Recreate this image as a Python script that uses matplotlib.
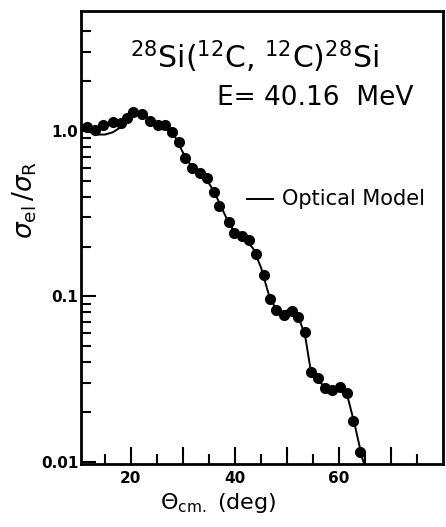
import matplotlib
matplotlib.use("Agg")
import matplotlib.pyplot as plt
from matplotlib.ticker import FixedLocator, NullFormatter, FixedFormatter

# measured elastic scattering, sigma_el / sigma_R
theta_data = [11.5, 13.1, 14.6, 16.5, 18.1, 19.2, 20.4, 22.1, 23.7, 25.2,
              26.5, 27.9, 29.2, 30.4, 31.7, 33.3, 34.6, 36.0, 36.9, 38.8,
              39.8, 41.3, 42.7, 44.0, 45.6, 46.7, 47.9, 49.4, 51.0, 52.1,
              53.5, 54.6, 56.0, 57.3, 58.7, 60.2, 61.5, 62.7, 64.0]
ratio_data = [1.06, 1.01, 1.09, 1.13, 1.12, 1.20, 1.30, 1.27, 1.15, 1.09,
              1.09, 0.99, 0.86, 0.69, 0.60, 0.56, 0.52, 0.43, 0.35, 0.28,
              0.24, 0.23, 0.22, 0.18, 0.134, 0.097, 0.083, 0.077, 0.081, 0.075,
              0.061, 0.035, 0.032, 0.028, 0.027, 0.0285, 0.026, 0.0177, 0.0115]

# optical model fit
theta_om = [10.4, 12.0, 13.5, 15.0, 16.5, 18.0, 19.5, 21.0, 22.5, 24.0,
            25.5, 27.0, 28.5, 30.0, 31.5, 33.0, 34.5, 36.0, 37.5, 39.0,
            40.5, 42.0, 43.5, 45.0, 46.5, 48.0, 49.5, 50.5, 51.5, 52.5,
            53.5, 54.5, 56.0, 57.5, 59.0, 60.5, 61.5, 63.0, 64.5, 65.5]
ratio_om = [1.05, 0.99, 0.95, 0.95, 0.98, 1.05, 1.17, 1.27, 1.25, 1.16,
            1.09, 1.03, 0.92, 0.74, 0.62, 0.56, 0.51, 0.43, 0.34, 0.27,
            0.235, 0.22, 0.195, 0.15, 0.103, 0.082, 0.080, 0.084, 0.080, 0.071,
            0.058, 0.037, 0.031, 0.028, 0.0275, 0.028, 0.026, 0.017, 0.0105, 0.0085]

x_major = [20, 30, 40, 50, 60, 70]
x_labels = ["20", "", "40", "", "60", ""]
x_minor = [15, 25, 35, 45, 55, 65, 75]
y_major = [0.01, 0.1, 1.0]
y_labels = ["0.01", "0.1", "1.0"]
y_minor = [m * d for d in (0.01, 0.1) for m in range(2, 10)] + [2.0, 3.0, 4.0]

plt.rcParams['font.family'] = ['DejaVu Sans']

fig = plt.figure(figsize=(4.46, 5.27), dpi=100)
ax = fig.add_axes([0.1816, 0.1195, 0.8114, 0.8596])

ax.plot(theta_om, ratio_om, color='black', lw=1.4, zorder=2)
ax.plot(theta_data, ratio_data, 'o', color='black', ms=7, zorder=3)

ax.set_yscale('log')
ax.set_xlim(10.4, 80)
ax.set_ylim(0.0097, 5.3)

ax.xaxis.set_major_locator(FixedLocator(x_major))
ax.xaxis.set_major_formatter(FixedFormatter(x_labels))
ax.xaxis.set_minor_locator(FixedLocator(x_minor))
ax.yaxis.set_major_locator(FixedLocator(y_major))
ax.yaxis.set_major_formatter(FixedFormatter(y_labels))
ax.yaxis.set_minor_locator(FixedLocator(y_minor))
ax.yaxis.set_minor_formatter(NullFormatter())

ax.tick_params(which='both', direction='in', width=1.5, top=False, right=False)
ax.tick_params(axis='x', which='major', length=12, pad=5, labelsize=11)
ax.tick_params(axis='x', which='minor', length=7)
ax.tick_params(axis='y', which='major', length=11, pad=2, labelsize=11)
ax.tick_params(axis='y', which='minor', length=7)
for lab in ax.get_xticklabels() + ax.get_yticklabels():
    lab.set_fontweight('bold')
for sp in ax.spines.values():
    sp.set_linewidth(2)

ax.text(0.478, 0.898, r'$^{28}$Si($^{12}$C, $^{12}$C)$^{28}$Si',
        transform=ax.transAxes, ha='center', va='center', fontsize=21.5)
ax.text(0.646, 0.808, 'E= 40.16  MeV',
        transform=ax.transAxes, ha='center', va='center', fontsize=19)
ax.plot([0.458, 0.53], [0.585, 0.585], color='black', lw=1.4,
        transform=ax.transAxes)
ax.text(0.556, 0.585, 'Optical Model', transform=ax.transAxes,
        ha='left', va='center', fontsize=15)

fig.text(0.056, 0.62, r'$\sigma_{\rm el}\,/\sigma_{\rm R}$', rotation=90,
         ha='center', va='center', fontsize=19)
fig.text(0.49, 0.045, r'$\Theta_{\rm cm.}$ (deg)', ha='center', va='center',
         fontsize=16)

fig.savefig('out.png', dpi=100)
